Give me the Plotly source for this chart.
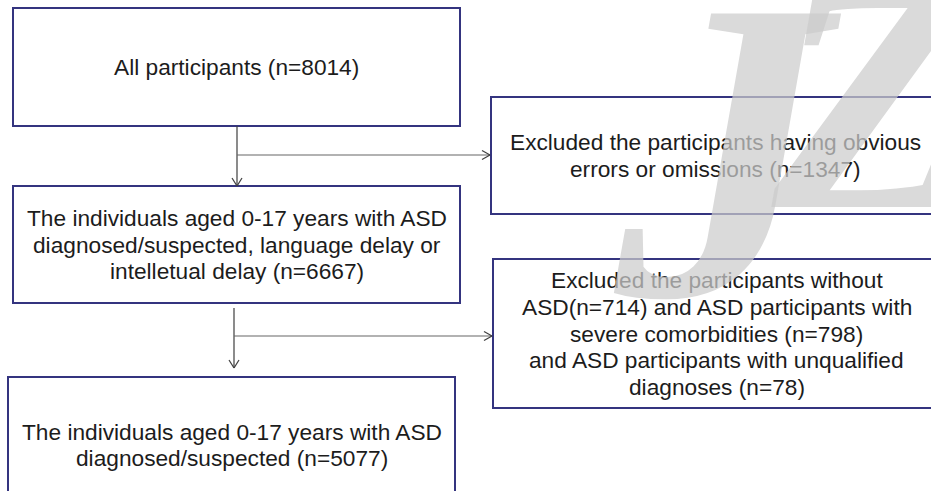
import plotly.graph_objects as go

# ---- content ----
box_names = ["all", "aged", "final", "excl1", "excl2"]
box_lines = [
    ["All participants (n=8014)"],
    ["The individuals aged 0-17 years with ASD",
     "diagnosed/suspected, language delay or",
     "intelletual delay (n=6667)"],
    ["The individuals aged 0-17 years with ASD",
     "diagnosed/suspected (n=5077)"],
    ["Excluded the participants having obvious",
     "errors or omissions (n=1347)"],
    ["Excluded the participants without",
     "ASD(n=714) and ASD participants with",
     "severe comorbidities (n=798)",
     "and ASD participants with unqualified",
     "diagnoses (n=78)"],
]
watermark_chars = ["J", "Z"]

# ---- layout geometry (pixels, y downwards) ----
W, H = 931, 491
boxes = {  # x0, y0, x1, y1
    "all":   (13, 8, 460, 126),
    "aged":  (13, 186, 460, 303),
    "final": (8, 377, 455, 513),
    "excl1": (491, 97, 940, 214),
    "excl2": (493, 259, 940, 408),
}
LINE_H = 26.7
BORDER = "#34347f"
ARROW = "#3f3f3f"

fig = go.Figure()
shapes = []
annotations = []

for name, lines in zip(box_names, box_lines):
    x0, y0, x1, y1 = boxes[name]
    shapes.append(dict(type="rect", xref="x", yref="y", x0=x0, y0=y0, x1=x1, y1=y1,
                       line=dict(color=BORDER, width=2), fillcolor="rgba(0,0,0,0)"))
    cx = (x0 + x1) / 2
    cy = (y0 + y1) / 2
    n = len(lines)
    for i, t in enumerate(lines):
        y = cy + (i - (n - 1) / 2) * LINE_H
        annotations.append(dict(x=cx, y=y, xref="x", yref="y", text=t, showarrow=False,
                                xanchor="center", yanchor="middle",
                                font=dict(family="Liberation Sans, Arial", size=22.7, color="#1c1c1c")))

def line(xa, ya, xb, yb, color=ARROW, w=1.2):
    shapes.append(dict(type="line", xref="x", yref="y", x0=xa, y0=ya, x1=xb, y1=yb,
                       line=dict(color=color, width=w)))

def head_down(x, y):
    line(x - 5, y - 8, x, y)
    line(x + 5, y - 8, x, y)

def head_right(x, y):
    line(x - 8, y - 4.5, x, y)
    line(x - 8, y + 4.5, x, y)

# connector 1
line(237, 126, 237, 186)
head_down(237, 186)
line(237, 155, 490, 155, color="#666666")
head_right(490, 155)
# connector 2
line(234, 308, 234, 368)
head_down(234, 368)
line(234, 336, 492, 336, color="#666666")
head_right(492, 336)

# watermark (on top, translucent)
wm_pos = [(725, 150, 430), (870, 95, 330)]
for ch, (wx, wy, ws) in zip(watermark_chars, wm_pos):
    annotations.append(dict(x=wx, y=wy, xref="x", yref="y", text=ch, showarrow=False,
                            xanchor="center", yanchor="middle", opacity=0.72,
                            font=dict(family="Liberation Serif", size=ws, color="#cccccc",
                                      style="italic", weight="bold")))

fig.update_layout(
    width=W, height=H,
    margin=dict(l=0, r=0, t=0, b=0),
    paper_bgcolor="white", plot_bgcolor="white",
    xaxis=dict(range=[0, W], visible=False, fixedrange=True),
    yaxis=dict(range=[H, 0], visible=False, fixedrange=True),
    shapes=shapes, annotations=annotations, showlegend=False,
)
fig.write_html("out.html", config={"displayModeBar": False},
               post_script="document.body.style.margin='0';document.body.style.overflow='hidden';")
